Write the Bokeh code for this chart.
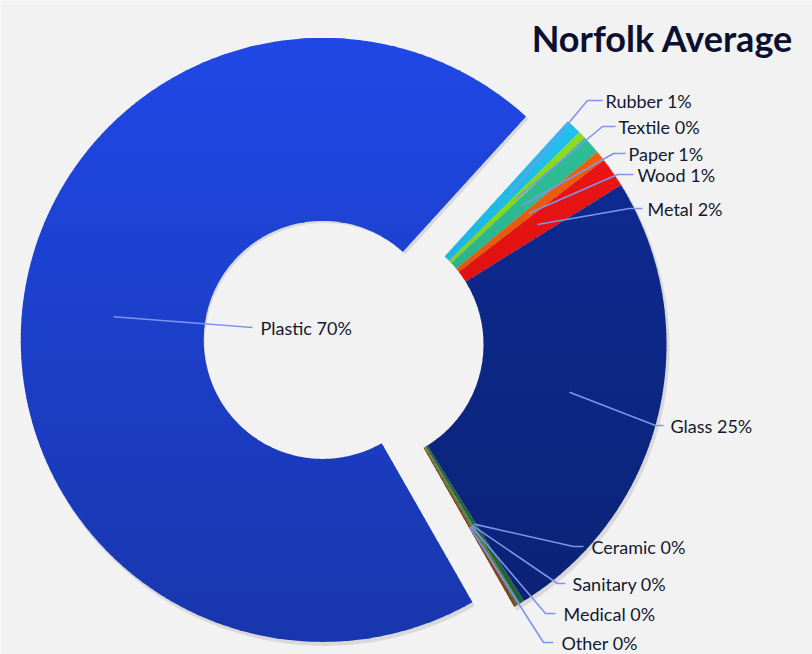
import numpy as np
from bokeh.plotting import figure
from bokeh.models import Range1d, ColumnDataSource
from bokeh.embed import file_html
from bokeh.resources import INLINE
from bokeh.core.properties import value

# ---- data ----
categories = ["Plastic", "Rubber", "Textile", "Paper", "Wood", "Metal",
              "Glass", "Ceramic", "Sanitary", "Medical", "Other"]
shares = [70.0, 0.85, 0.4, 1.0, 0.55, 1.6, 25.0, 0.25, 0.1, 0.1, 0.15]
label_texts = ["Plastic 70%", "Rubber  1%", "Textile 0%", "Paper 1%", "Wood 1%",
               "Metal 2%", "Glass 25%", "Ceramic 0%", "Sanitary 0%",
               "Medical  0%", "Other 0%"]
title_text = "Norfolk Average"

# ---- style ----
colors = ["#2048e6", "#22c8f6", "#90e61e", "#30c69c", "#fa620e", "#f81414",
          "#0f2d9a", "#2b7d4e", "#7a9a2a", "#3f9a62", "#a8521f"]
explode = [42, 0, 0, 0, 0, 0, 0, 0, 0, 0, 0]
first_angle = 150.3          # degrees clockwise from 12 o'clock
R_OUT, R_IN = 302, 119
W, H = 812, 654
GRAD_TOP, GRAD_BOTTOM, GRAD_DARK = 38, 642, 0.25   # vertical shading (image y)

def Y(yimg):
    return H - yimg

center = (364.0, Y(344))

# label layout (image coords): text x, text y, elbow x, end of horizontal x
label_layout = {
    "Plastic": (260, 327, 252, 252),
    "Rubber": (605, 100, 587, 602),
    "Textile": (618, 126, 602, 615),
    "Paper": (628, 153, 613, 625),
    "Wood": (637, 174, 617, 633),
    "Metal": (647, 208, 629, 642),
    "Glass": (670, 425, 655, 663),
    "Ceramic": (591, 546, 573, 583),
    "Sanitary": (572, 583, 557, 565),
    "Medical": (563, 613, 545, 555),
    "Other": (561, 642, 543, 553),
}

vals = np.array(shares, dtype=float)
sweep = vals / vals.sum() * 360.0
theta_start = first_angle + np.concatenate([[0], np.cumsum(sweep)[:-1]])
theta_end = theta_start + sweep
theta_mid = (theta_start + theta_end) / 2

cx = center[0] + np.array(explode) * np.sin(np.radians(theta_mid))
cy = center[1] + np.array(explode) * np.cos(np.radians(theta_mid))


def wedge_poly(x0, y0, ts, te):
    n = max(3, int((te - ts) / 0.5) + 2)
    t = np.radians(np.linspace(ts, te, n))
    ox = x0 + R_OUT * np.sin(t); oy = y0 + R_OUT * np.cos(t)
    ix = x0 + R_IN * np.sin(t[::-1]); iy = y0 + R_IN * np.cos(t[::-1])
    return list(zip(np.concatenate([ox, ix]), np.concatenate([oy, iy])))


def clip_half(pts, yc, keep_above):
    out = []
    for i in range(len(pts)):
        cur, prev = pts[i], pts[i - 1]
        cin = cur[1] >= yc if keep_above else cur[1] <= yc
        pin = prev[1] >= yc if keep_above else prev[1] <= yc
        if cin != pin:
            t = (yc - prev[1]) / (cur[1] - prev[1])
            out.append((prev[0] + t * (cur[0] - prev[0]), yc))
        if cin:
            out.append(cur)
    return out


def shade(hexcol, f):
    r, g, b = (int(hexcol[k:k + 2], 16) for k in (1, 3, 5))
    return "#%02x%02x%02x" % tuple(int(round(c * f)) for c in (r, g, b))


px, py, pc = [], [], []
band = 8
for i in range(len(categories)):
    poly = wedge_poly(cx[i], cy[i], theta_start[i], theta_end[i])
    ylo = min(q[1] for q in poly); yhi = max(q[1] for q in poly)
    yb = np.floor(ylo / band) * band
    while yb < yhi:
        piece = clip_half(poly, yb - 0.5, True)
        if piece:
            piece = clip_half(piece, yb + band + 0.5, False)
        if len(piece) >= 3:
            ymid_img = H - (yb + band / 2)
            t = np.clip((ymid_img - GRAD_TOP) / (GRAD_BOTTOM - GRAD_TOP), 0, 1)
            px.append([q[0] for q in piece]); py.append([q[1] for q in piece])
            pc.append(shade(colors[i], 1 - GRAD_DARK * t))
        yb += band

shadow = ColumnDataSource(dict(
    x=cx + 2.0, y=cy - 3.0,
    start=np.radians(90 - theta_end), end=np.radians(90 - theta_start),
))

p = figure(width=W, height=H, output_backend="svg", toolbar_location=None,
           x_range=Range1d(0, W), y_range=Range1d(0, H), min_border=0)
p.axis.visible = False
p.grid.visible = False
p.outline_line_color = None
p.background_fill_color = "#f2f2f2"
p.border_fill_color = "#f2f2f2"

p.annular_wedge(x="x", y="y", inner_radius=R_IN + 1, outer_radius=R_OUT + 1,
                start_angle="start", end_angle="end", direction="anticlock",
                fill_color="#000000", fill_alpha=0.10, line_color=None, source=shadow)
p.patches(xs=px, ys=py, fill_color=pc, line_color=None)

# leader lines and labels
xs, ys, tx, ty = [], [], [], []
r_anchor = (R_IN + R_OUT) / 2
for i, name in enumerate(categories):
    ax = cx[i] + r_anchor * np.sin(np.radians(theta_mid[i]))
    ay = cy[i] + r_anchor * np.cos(np.radians(theta_mid[i]))
    txi, tyi, ex, hx = label_layout[name]
    xs.append([ax, ex, hx])
    ys.append([ay, Y(tyi), Y(tyi)])
    tx.append(txi)
    ty.append(Y(tyi))

p.multi_line(xs=xs, ys=ys, line_color="#7d95ee", line_width=1.6)
p.text(x=tx, y=ty, text=label_texts, text_align="left", text_baseline="middle",
       text_font=value("Lato"), text_font_size="18px", text_color="#131a30")

p.text(x=[793], y=[Y(37)], text=[title_text], text_align="right",
       text_baseline="alphabetic", text_font=value("Lato"), text_font_size="36px",
       text_font_style="bold", text_color="#0b1030")

open("out.html", "w").write(file_html(p, INLINE))
